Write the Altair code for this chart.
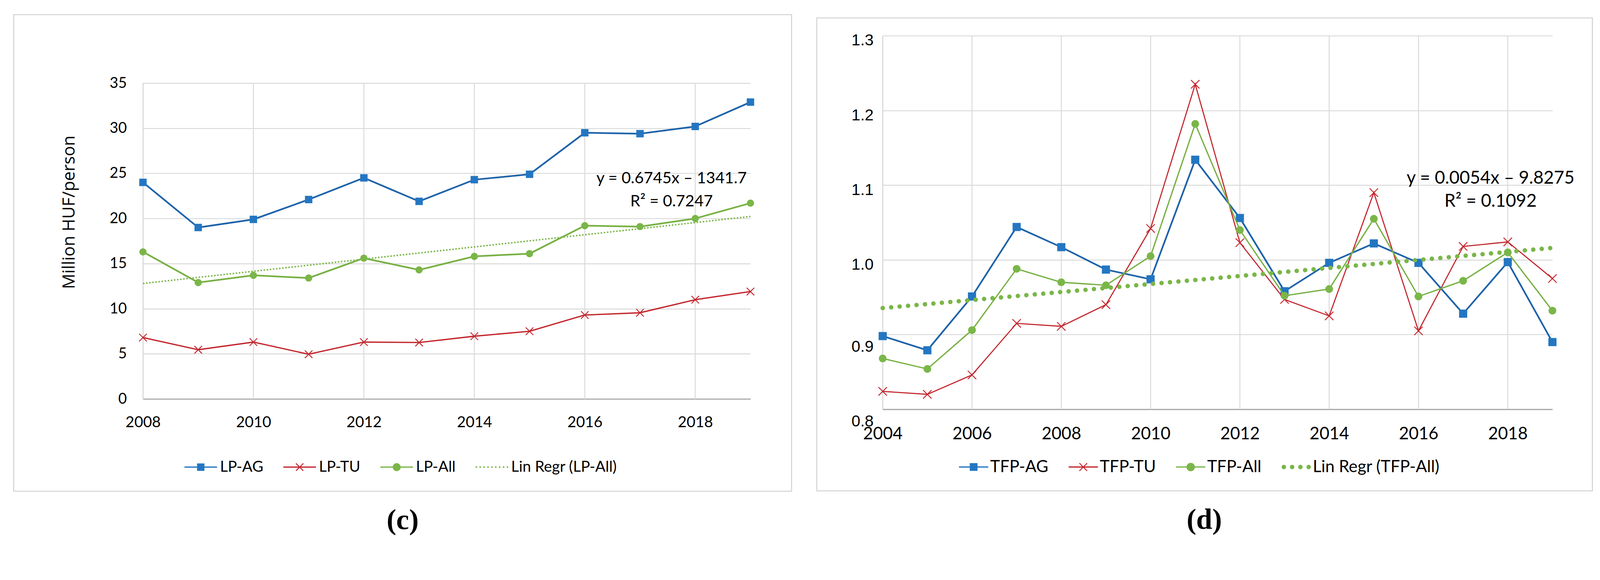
import math
import altair as alt
import pandas as pd

# ---------------- data ----------------
years_lp = list(range(2008, 2020))
lp_ag = [24.0, 19.0, 19.9, 22.1, 24.5, 21.9, 24.3, 24.9, 29.5, 29.4, 30.2, 32.9]
lp_tu = [6.8, 5.45, 6.3, 4.95, 6.3, 6.25, 6.95, 7.5, 9.3, 9.55, 11.0, 11.9]
lp_all = [16.3, 12.9, 13.7, 13.4, 15.6, 14.3, 15.8, 16.1, 19.2, 19.1, 20.0, 21.7]
lp_series = ["LP-AG", "LP-TU", "LP-All", "Lin Regr (LP-All)"]
lp_ticks_x = [2008, 2010, 2012, 2014, 2016, 2018]
lp_ticks_y = [0, 5, 10, 15, 20, 25, 30, 35]
lp_eq = ["y = 0.6745x \u2013 1341.7", "R\u00b2 = 0.7247"]

years_tfp = list(range(2004, 2020))
tfp_ag = [0.898, 0.879, 0.951, 1.044, 1.017, 0.987, 0.974, 1.134, 1.056, 0.958,
          0.996, 1.022, 0.996, 0.928, 0.997, 0.890]
tfp_tu = [0.824, 0.820, 0.846, 0.915, 0.911, 0.940, 1.042, 1.235, 1.023, 0.947,
          0.925, 1.090, 0.905, 1.018, 1.024, 0.975]
tfp_all = [0.868, 0.854, 0.906, 0.988, 0.970, 0.966, 1.005, 1.182, 1.040, 0.952,
           0.961, 1.055, 0.951, 0.972, 1.010, 0.932]
tfp_series = ["TFP-AG", "TFP-TU", "TFP-All", "Lin Regr (TFP-All)"]
tfp_ticks_x = [2004, 2006, 2008, 2010, 2012, 2014, 2016, 2018]
tfp_ticks_y = [0.8, 0.9, 1.0, 1.1, 1.2, 1.3]
tfp_eq = ["y = 0.0054x \u2013 9.8275", "R\u00b2 = 0.1092"]

# ---------------- styling ----------------
BLUE_LINE = "#1d62a9"
BLUE_MK = "#2476c2"
RED = "#c3262d"
GREEN_LINE = "#77b042"
GREEN_MK = "#7ab648"
GRID = "#d9d9d9"
FRAME = "#d6d6d6"
LABEL_FONT = "Lato"


def long_df(years, names, arrays):
    rows = []
    for n, arr in zip(names, arrays):
        for yr, v in zip(years, arr):
            rows.append({"year": yr, "series": n, "value": v})
    return pd.DataFrame(rows)


df_lp = long_df(years_lp, lp_series[:3], [lp_ag, lp_tu, lp_all])
df_tfp = long_df(years_tfp, tfp_series[:3], [tfp_ag, tfp_tu, tfp_all])
one = pd.DataFrame({"k": [0]})


# ---------------- legend symbol paths (unit square -1..1) ----------------
def rect_path(x0, y0, x1, y1):
    return f"M{x0:.4f},{y0:.4f}H{x1:.4f}V{y1:.4f}H{x0:.4f}Z"


def circle_path(cx, cy, r):
    return (f"M{cx - r:.4f},{cy:.4f}A{r:.4f},{r:.4f} 0 1,1 {cx + r:.4f},{cy:.4f}"
            f"A{r:.4f},{r:.4f} 0 1,1 {cx - r:.4f},{cy:.4f}Z")


def x_path(h, t):
    a = h * math.sqrt(2)
    pts = [(-t, -a), (t, -a), (t, -t), (a, -t), (a, t), (t, t), (t, a), (-t, a),
           (-t, t), (-a, t), (-a, -t), (-t, -t)]
    s = math.sqrt(2)
    rp = [((x - y) / s, (x + y) / s) for x, y in pts]
    return "M" + "L".join(f"{x:.4f},{y:.4f}" for x, y in rp) + "Z"


def legend_paths(line_half, mk_half, x_half_t, lin_dots):
    line = rect_path(-1, -line_half, 1, line_half)
    ag = line + rect_path(-mk_half, -mk_half, mk_half, mk_half)
    tu = line + x_path(mk_half, x_half_t)
    al = line + circle_path(0, 0, mk_half * 1.08)
    return [ag, tu, al, lin_dots]


# left legend: symbol 88 px wide -> 44 px per unit
lp_dots = "".join(rect_path(c - 0.045, -0.045, c + 0.045, 0.045)
                  for c in [-0.955 + k * 0.23875 for k in range(9)])
lp_paths = legend_paths(0.04, 0.227, 0.03, lp_dots)
# right legend: symbol 79 px wide -> 39.5 px per unit
tfp_dots = "".join(circle_path(c, 0, 0.152) for c in [-0.848, -0.283, 0.283, 0.848])
tfp_paths = legend_paths(0.044, 0.265, 0.033, tfp_dots)

XSHAPE = "M-1,-1L1,1M-1,1L1,-1"


def panel(df, names, x_enc, y_enc, ticks_x, y_lo, y_hi, w, h, paths, leg_colors, leg,
          frame, eq_xy, eq_text, eq_size, tag, tag_xy, mk, reg_style, line_widths):
    layers = []
    layers.append(
        alt.Chart(one).mark_rect(filled=False, stroke=FRAME, strokeWidth=3).encode(
            x=alt.value(frame[0]), x2=alt.value(frame[1]),
            y=alt.value(frame[2]), y2=alt.value(frame[3]))
    )
    # vertical grid lines (one per labelled year)
    grid_df = pd.DataFrame({"year": ticks_x, "lo": y_lo, "hi": y_hi})
    layers.append(
        alt.Chart(grid_df).mark_rule(color=GRID, strokeWidth=2.5).encode(
            x=x_enc, y=alt.Y("lo:Q"), y2="hi:Q")
    )
    line_cols = [BLUE_LINE, RED, GREEN_LINE]
    for i, n in enumerate(names[:3]):
        base = alt.Chart(df).transform_filter(alt.datum.series == n)
        layers.append(base.mark_line(color=line_cols[i], strokeWidth=line_widths[i]).encode(
            x=x_enc, y=y_enc))
        if i == 0:
            m = base.mark_square(size=mk[0], color=BLUE_MK, opacity=1)
        elif i == 1:
            m = base.mark_point(shape=XSHAPE, size=mk[1], color=RED, filled=False,
                                strokeWidth=2.5, opacity=1)
        else:
            m = base.mark_circle(size=mk[2], color=GREEN_MK, opacity=1)
        layers.append(m.encode(x=x_enc, y=y_enc))
    layers.append(
        alt.Chart(df).transform_filter(alt.datum.series == names[2])
        .transform_regression("year", "value")
        .mark_line(color=GREEN_MK, **reg_style)
        .encode(x=x_enc, y=y_enc)
    )
    layers.append(
        alt.Chart(df).mark_point(filled=True, opacity=0).encode(
            x=x_enc, y=y_enc,
            color=alt.Color("series:N", title=None,
                            scale=alt.Scale(domain=names, range=leg_colors), legend=leg),
            shape=alt.Shape("series:N", title=None,
                            scale=alt.Scale(domain=names, range=paths), legend=leg),
        )
    )
    layers.append(
        alt.Chart(one).mark_text(text=eq_text, align="center", baseline="middle",
                                 font=LABEL_FONT, fontSize=eq_size, lineHeight=62,
                                 color="#000000").encode(
            x=alt.value(eq_xy[0]), y=alt.value(eq_xy[1]))
    )
    layers.append(
        alt.Chart(one).mark_text(text=tag, align="center", baseline="middle",
                                 font="Liberation Serif", fontWeight="bold", fontSize=78,
                                 color="#000000").encode(
            x=alt.value(tag_xy[0]), y=alt.value(tag_xy[1]))
    )
    return alt.layer(*layers).properties(width=w, height=h)


# ---------------- left panel (c) ----------------
# the view starts at the same height as panel (d); the data area is the lower part
lp_x = alt.X("year:Q", scale=alt.Scale(domain=[2008, 2019], nice=False, zero=False),
             axis=alt.Axis(values=lp_ticks_x, format="d", title=None, ticks=False,
                           labelFlush=False, labelOverlap=False, labelPadding=44,
                           labelFont=LABEL_FONT, labelFontSize=41, labelColor="#000000",
                           grid=False, domainColor="#a6a6a6", domainWidth=3))
lp_y = alt.Y("value:Q", scale=alt.Scale(domain=[0, 35], nice=False, zero=False,
                                         range=[980, 128]),
             axis=alt.Axis(values=lp_ticks_y, title="Million HUF/person",
                           titleFont="Open Sans", titleFontSize=46, titleFontWeight="normal",
                           titleColor="#000000", titleX=-199, titleY=476, titleAngle=270,
                           titleAlign="center", titleBaseline="middle",
                           ticks=False, labelFlush=False, labelOverlap=False, labelPadding=44,
                           labelFont=LABEL_FONT, labelFontSize=40, labelColor="#000000",
                           grid=True, gridColor=GRID, gridWidth=2.5,
                           domainColor="#bfbfbf", domainWidth=2))
lp_leg = alt.Legend(orient="none", legendX=112, legendY=1120, direction="horizontal",
                    labelFont=LABEL_FONT, labelFontSize=41, labelColor="#000000",
                    labelOffset=8, labelLimit=1000, symbolSize=7744, symbolStrokeWidth=0,
                    symbolOpacity=1, columnPadding=54, padding=0)
left = panel(df_lp, lp_series, lp_x, lp_y, lp_ticks_x, 0, 35, 1640, 980, lp_paths,
             [BLUE_MK, RED, GREEN_MK, GREEN_MK], lp_leg,
             frame=(-349, 1751, -57, 1229), eq_xy=(1427, 385), eq_text=lp_eq, eq_size=43,
             tag="(c)", tag_xy=(701, 1309), mk=(400, 420, 380),
             reg_style=dict(strokeWidth=4, strokeDash=[4, 4.4]),
             line_widths=(4.5, 3.5, 4.5))

# ---------------- right panel (d) ----------------
tfp_x = alt.X("year:Q", scale=alt.Scale(domain=[2004, 2019], nice=False, zero=False),
              axis=alt.Axis(values=tfp_ticks_x, format="d", title=None, ticks=False,
                            labelFlush=False, labelOverlap=False, labelPadding=44,
                            labelFont=LABEL_FONT, labelFontSize=46, labelColor="#000000",
                            grid=False, domainColor="#a6a6a6", domainWidth=3))
tfp_y = alt.Y("value:Q", scale=alt.Scale(domain=[0.8, 1.3], nice=False, zero=False),
              axis=alt.Axis(values=tfp_ticks_y, format=".1f", title=None, ticks=False,
                            labelFlush=False, labelOverlap=False, labelPadding=25,
                            labelOffset={"condition": {"test": "datum.value < 0.95", "value": 33},
                                         "value": 13},
                            labelFont="Liberation Sans", labelFontSize=43,
                            labelColor="#000000",
                            grid=True, gridColor=GRID, gridWidth=2.5,
                            domainColor="#bfbfbf", domainWidth=2))
tfp_leg = alt.Legend(orient="none", legendX=206, legendY=1124, direction="horizontal",
                     labelFont=LABEL_FONT, labelFontSize=45, labelColor="#000000",
                     labelOffset=5, labelLimit=1000, symbolSize=6241, symbolStrokeWidth=0,
                     symbolOpacity=1, columnPadding=54, padding=0)
right = panel(df_tfp, tfp_series, tfp_x, tfp_y, tfp_ticks_x, 0.8, 1.3, 1808, 1008, tfp_paths,
              [BLUE_MK, RED, GREEN_MK, GREEN_MK], tfp_leg,
              frame=(-178, 1916, -48, 1228), eq_xy=(1641, 385), eq_text=tfp_eq, eq_size=48,
              tag="(d)", tag_xy=(868, 1307), mk=(484, 520, 440),
              reg_style=dict(strokeWidth=12, strokeDash=[0.1, 22.8], strokeCap="round"),
              line_widths=(4.5, 3, 3.5))

chart = (
    alt.hconcat(left, right, spacing=357, bounds="flush")
    .resolve_scale(color="independent", shape="independent")
    .resolve_legend(color="independent", shape="independent")
    .properties(
        padding={"left": 26.5, "top": -9.5, "right": 10, "bottom": 10},
        autosize=alt.AutoSizeParams(type="pad"),
        background="white",
    )
    .configure_view(stroke="transparent")
)

chart.save("out.html", embed_options={"renderer": "svg", "actions": False})
